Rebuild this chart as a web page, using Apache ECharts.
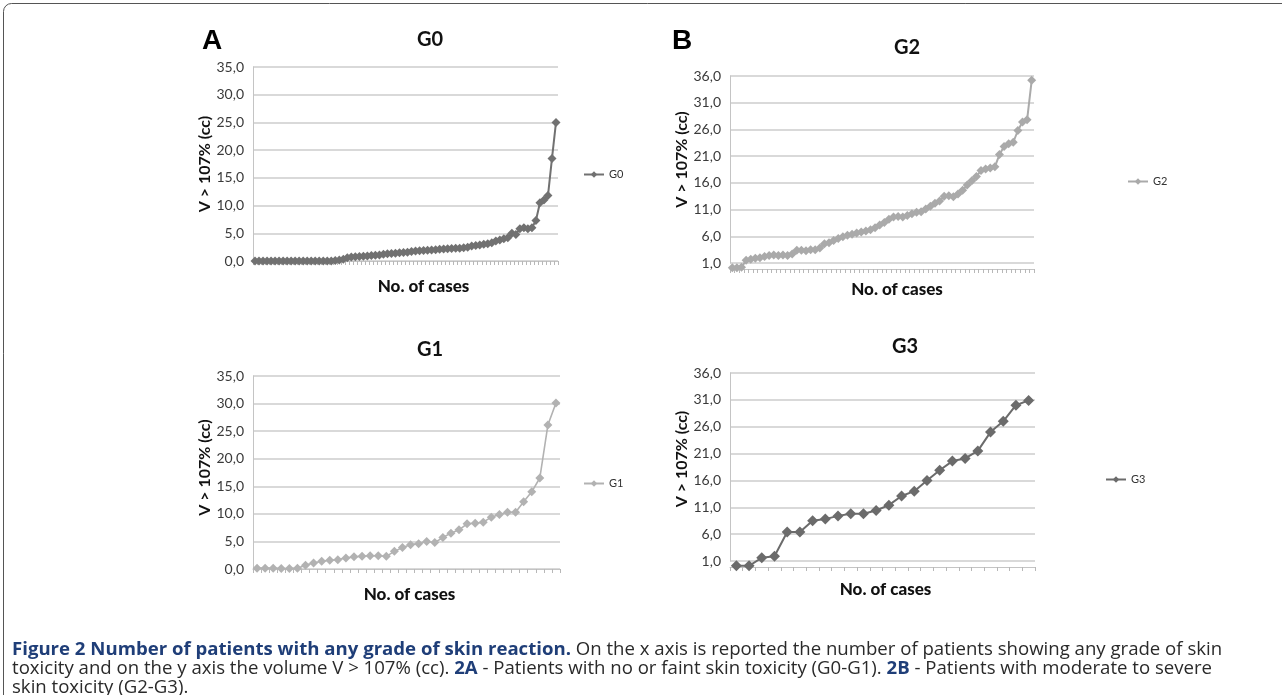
<!DOCTYPE html>
<html><head><meta charset="utf-8">
<script src="https://cdn.jsdelivr.net/npm/echarts@6/dist/echarts.min.js"></script>
<style>html,body{margin:0;padding:0;background:#fff}#c{width:1282px;height:695px}</style>
</head><body><div id="c"></div>
<script>
// ---- data ----
const g0Values = [0.0,0.0,0.0,0.0,0.0,0.0,0.0,0.0,0.0,0.0,0.0,0.0,0.0,0.0,0.0,0.0,0.0,0.0,0.0,0.0,0.1,0.2,0.3,
  0.6,0.7,0.75,0.8,0.85,0.9,1.0,1.05,1.1,1.2,1.3,1.35,1.4,1.5,1.55,1.6,1.7,1.8,1.85,1.9,1.95,2.0,2.05,2.1,2.15,2.2,2.25,2.3,2.3,2.4,2.5,2.7,2.8,2.9,3.0,3.1,3.3,3.6,3.8,4.0,4.2,5.0,4.8,5.8,6.0,5.8,6.0,7.3,10.5,11.0,11.8,18.5,25.0];
const g1Values = [0.15,0.15,0.15,0.1,0.1,0.15,0.7,1.1,1.4,1.6,1.7,2.0,2.2,2.3,2.4,2.4,2.3,3.2,3.9,4.4,4.6,5.0,4.8,5.7,6.5,7.1,8.2,8.3,8.5,9.4,9.9,10.3,10.3,12.2,14.0,16.5,26.1,30.1];
const g2Values = [0.1,0.1,0.2,1.5,1.7,1.9,2.0,2.2,2.4,2.5,2.4,2.5,2.4,2.7,3.4,3.4,3.3,3.5,3.5,3.8,4.6,4.8,5.2,5.6,5.9,6.2,6.4,6.6,6.8,7.0,7.2,7.6,8.1,8.6,9.2,9.6,9.7,9.6,9.9,10.2,10.5,10.6,11.1,11.6,12.2,12.6,13.5,13.6,13.4,13.9,14.6,15.6,16.4,17.2,18.3,18.6,18.8,19.0,21.3,22.8,23.3,23.6,25.8,27.4,27.8,35.2];
const g3Values = [0.1,0.1,1.6,1.9,6.4,6.4,8.5,8.8,9.4,9.8,9.8,10.4,11.4,13.1,14.0,16.0,17.9,19.6,20.1,21.5,25.0,27.0,30.0,30.9];
const seriesNames = ['G0','G1','G2','G3'];
const yScaleA = {min: 0, max: 35, interval: 5};   // panels G0, G1
const yScaleB = {min: 1, max: 36, interval: 5};   // panels G2, G3
const yAxisTitle = 'V > 107% (cc)';
const xAxisTitle = 'No. of cases';
const caption = [
  '{b|Figure 2 Number of patients with any grade of skin reaction.} On the x axis is reported the number of patients showing any grade of skin',
  'toxicity and on the y axis the volume V > 107% (cc). {b|2A} - Patients with no or faint skin toxicity (G0-G1). {b|2B} - Patients with moderate to severe',
  'skin toxicity (G2-G3).'
];

const allValues = [g0Values, g1Values, g2Values, g3Values];
const colors = ['#717171', '#b2b2b2', '#aaaaaa', '#6b6b6b'];
const FONT = 'Lato, "Open Sans", sans-serif';

const grids = [
  {left: 253, top: 67, width: 305, height: 194},
  {left: 253, top: 376, width: 307, height: 193},
  {left: 730, top: 76, width: 304, height: 187},
  {left: 730, top: 373, width: 305, height: 188}
];
const titlePos = [[425, 25], [425, 335], [902, 33], [900, 332]];
const legendPos = [[583, 169], [583, 478], [1127, 176], [1105, 474]];
const xNameGap = [17, 17, 12, 14];
const xNameShift = [36, 6, 30, 6];
const yNameGap = [39, 39, 39, 39];
const yNameShift = [0, 10, 20, 16];

const fmt = v => v.toFixed(1).replace('.', ',');

const option = {
  backgroundColor: '#fff',
  animation: false,
  title: seriesNames.map((n, i) => ({
    text: n, left: titlePos[i][0], top: titlePos[i][1], textAlign: 'center',
    textStyle: {fontFamily: FONT, fontWeight: 'bold', fontSize: 20, color: '#111'}
  })),
  legend: seriesNames.map((n, i) => ({
    data: [n], left: legendPos[i][0], top: legendPos[i][1], orient: 'vertical', padding: 0,
    itemWidth: 20, itemHeight: 8, itemGap: 4,
    textStyle: {fontFamily: FONT, fontSize: 11, color: '#333'}
  })),
  grid: grids,
  xAxis: allValues.map((vals, i) => ({
    type: 'category', gridIndex: i,
    data: vals.map((_, k) => String(k + 1)),
    boundaryGap: true,
    offset: i >= 2 ? 6 : 0,
    name: xAxisTitle, nameLocation: 'middle', nameGap: xNameGap[i],
    nameTextStyle: {fontFamily: FONT, fontWeight: 900, fontSize: 17, color: '#111',
      padding: [0, 0, 0, xNameShift[i]]},
    axisLine: {lineStyle: {color: '#c4c4c4', width: 1}},
    axisTick: {show: true, interval: 0, length: 4, lineStyle: {color: '#b8b8b8'}},
    axisLabel: {show: false},
    splitLine: {show: false}
  })),
  yAxis: allValues.map((vals, i) => {
    const s = i < 2 ? yScaleA : yScaleB;
    return {
      type: 'value', gridIndex: i, min: s.min, max: s.max, interval: s.interval,
      name: yAxisTitle, nameLocation: 'middle', nameGap: yNameGap[i], nameRotate: 90,
      nameTextStyle: {fontFamily: FONT, fontWeight: 'bold', fontSize: 16, color: '#111',
        padding: [0, 0, 0, yNameShift[i]]},
      axisLine: {show: true, lineStyle: {color: '#c4c4c4'}},
      axisTick: {show: false},
      axisLabel: {formatter: fmt, fontFamily: FONT, fontSize: 14, color: '#3a3a3a', margin: 9},
      splitLine: {lineStyle: {color: '#cdcdcd', width: 1.5}}
    };
  }),
  series: allValues.map((vals, i) => ({
    name: seriesNames[i], type: 'line', xAxisIndex: i, yAxisIndex: i,
    data: vals, symbol: 'diamond', symbolSize: i === 3 ? 11 : 9, clip: false,
    showSymbol: true, showAllSymbol: true,
    itemStyle: {color: colors[i]},
    lineStyle: {color: colors[i], width: i === 1 ? 1.6 : 2}
  })),
  graphic: [
    {type: 'rect', shape: {x: 3.5, y: 3.5, width: 1300, height: 720, r: 8},
     style: {fill: 'none', stroke: '#555', lineWidth: 1}},
    {type: 'text', left: 202, top: 27, style: {text: 'A', font: 'bold 28px Arial, "Liberation Sans", sans-serif', fill: '#000'}},
    {type: 'text', left: 672, top: 27, style: {text: 'B', font: 'bold 28px Arial, "Liberation Sans", sans-serif', fill: '#000'}},
    ...caption.map((line, k) => ({
      type: 'text', left: 12, top: 640 + k * 19,
      style: {text: line, font: '18.6px "Open Sans", sans-serif', fill: '#2a2a2a',
        rich: {b: {font: 'bold 18.6px "Open Sans", sans-serif', fill: '#1f3e78'}}}
    }))
  ]
};

const chart = echarts.init(document.getElementById('c'), null, {renderer: 'canvas'});
chart.setOption(option);
</script>
</body></html>
